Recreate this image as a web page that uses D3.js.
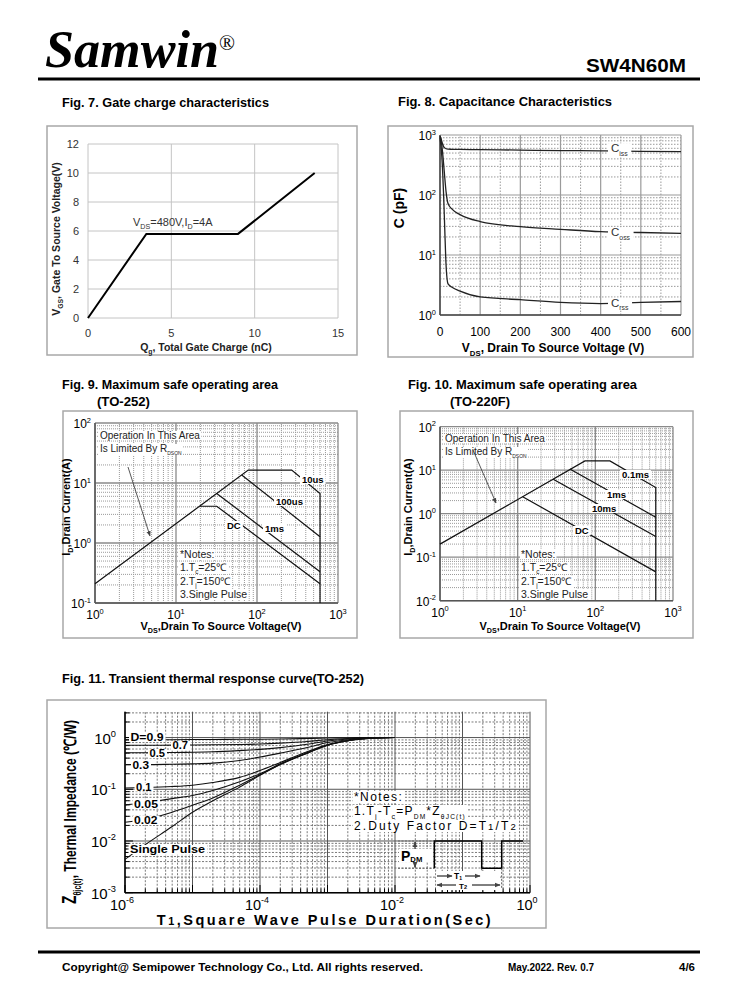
<!DOCTYPE html>
<html>
<head>
<meta charset="utf-8">
<script src="https://cdn.jsdelivr.net/npm/d3@7"></script>
<style>
  body { margin: 0; background: #fff; }
  svg { display: block; }
  text { font-family: "Liberation Sans", Arial, sans-serif; }
</style>
</head>
<body>
<div id="page"></div>
<script>
/**
 * DATA
 * */
// Fig 7 - gate charge
const gateCharge = [0, 3.5, 9, 13.6];
const gateVoltage = [0, 5.8, 5.8, 10];
const gateXTicks = [0, 5, 10, 15];
const gateYTicks = [0, 2, 4, 6, 8, 10, 12];

// Fig 8 - capacitance vs Vds
const capVds = [0, 3, 6, 9, 12, 15, 20, 30, 50, 100, 200, 300, 400, 500, 600];
const capCiss = [950, 850, 720, 640, 610, 590, 580, 578, 575, 570, 560, 550, 545, 535, 528];
const capCoss = [950, 800, 550, 330, 190, 115, 72, 58, 47, 36, 29.6, 26.8, 24.5, 23.7, 23];
const capCrss = [900, 600, 300, 100, 25, 7, 3.3, 2.9, 2.5, 2.0, 1.8, 1.62, 1.55, 1.62, 1.68];
const capXTicks = [0, 100, 200, 300, 400, 500, 600];
const capYExps = [0, 1, 2, 3];

// Fig 9 - SOA TO-252 (Vds in V, Id in A)
const soa252Vds10us = [1, 78, 268, 600, 600];
const soa252Id10us = [0.21, 16.4, 16.4, 6.7, 0.1];
const soa252Vds100us = [64.7, 600];
const soa252Id100us = [13.6, 1.27];
const soa252Vds1ms = [31.8, 600];
const soa252Id1ms = [6.7, 0.333];
const soa252VdsDC = [19.8, 31.8, 600];
const soa252IdDC = [4.1, 4.1, 0.21];

// Fig 10 - SOA TO-220F
const soa220Vds01ms = [1, 73.5, 154, 600, 600];
const soa220Id01ms = [0.2, 16.3, 16.3, 4.0, 0.01];
const soa220Vds1ms = [47, 600];
const soa220Id1ms = [10.7, 0.83];
const soa220Vds10ms = [28.7, 600];
const soa220Id10ms = [6.2, 0.30];
const soa220VdsDC = [11.6, 600];
const soa220IdDC = [2.46, 0.046];
const soaXExps = [0, 1, 2, 3];
const soa252YExps = [-1, 0, 1, 2];
const soa220YExps = [-2, -1, 0, 1, 2];

// Fig 11 - transient thermal impedance
const thermT = [1e-6, 2e-6, 5e-6, 1e-5, 2e-5, 5e-5, 1e-4, 2e-4, 5e-4, 1e-3, 2e-3, 5e-3, 1e-2];
const thermD09 = [0.91, 0.91, 0.91, 0.915, 0.92, 0.925, 0.93, 0.94, 0.96, 0.98, 0.99, 1.0, 1.0];
const thermD07 = [0.71, 0.71, 0.715, 0.72, 0.725, 0.735, 0.75, 0.78, 0.84, 0.91, 0.96, 0.99, 1.0];
const thermD05 = [0.51, 0.51, 0.515, 0.52, 0.53, 0.56, 0.59, 0.64, 0.74, 0.86, 0.94, 0.99, 1.0];
const thermD03 = [0.30, 0.30, 0.305, 0.31, 0.32, 0.36, 0.42, 0.5, 0.64, 0.8, 0.91, 0.98, 1.0];
const thermD01 = [0.106, 0.108, 0.113, 0.12, 0.135, 0.17, 0.23, 0.33, 0.53, 0.73, 0.88, 0.98, 1.0];
const thermD005 = [0.05, 0.055, 0.066, 0.076, 0.095, 0.14, 0.2, 0.31, 0.51, 0.72, 0.87, 0.98, 1.0];
const thermD002 = [0.023, 0.026, 0.036, 0.049, 0.068, 0.12, 0.19, 0.305, 0.5, 0.71, 0.87, 0.98, 1.0];
const thermSingle = [0.0044, 0.0085, 0.019, 0.036, 0.06, 0.11, 0.186, 0.30, 0.5, 0.71, 0.87, 0.98, 1.0];
const thermXExps = [-6, -4, -2, 0];
const thermYExps = [-3, -2, -1, 0];

/**
 * HELPERS
 * */
const svg = d3.select("#page").append("svg").attr("width", 738).attr("height", 1000);

function addText(g, x, y, str, o = {}) {
  const t = g.append("text")
    .attr("x", x).attr("y", y)
    .attr("font-size", o.size || 11)
    .attr("font-weight", o.bold ? "bold" : null)
    .attr("font-style", o.italic ? "italic" : null)
    .attr("text-anchor", o.anchor || "start")
    .attr("fill", o.fill || "#000")
    .text(str);
  if (o.family) t.style("font-family", o.family);
  if (o.len) t.attr("textLength", o.len).attr("lengthAdjust", "spacingAndGlyphs");
  if (o.spacing) t.attr("letter-spacing", o.spacing);
  if (o.rotate) t.attr("transform", `rotate(-90,${x},${y})`);
  return t;
}

// text made of parts: [string, "sub" | "sup" | null, sizeFactor]
function richText(g, x, y, parts, o = {}) {
  const size = o.size || 11;
  const subShift = o.subShift != null ? o.subShift : 0.3;
  const t = g.append("text")
    .attr("x", x).attr("y", y)
    .attr("font-size", size)
    .attr("font-weight", o.bold ? "bold" : null)
    .attr("text-anchor", o.anchor || "start")
    .attr("fill", o.fill || "#000");
  if (o.spacing) t.attr("letter-spacing", o.spacing);
  let shift = 0;
  parts.forEach(([s, kind, f]) => {
    const target = kind === "sub" ? size * subShift : kind === "sup" ? -size * 0.45 : 0;
    const fs = kind ? size * (f || 0.65) : size * (f || 1);
    t.append("tspan").attr("dy", target - shift).attr("font-size", fs).text(s);
    shift = target;
  });
  if (o.rotate) {
    const s = o.squeeze || 1;
    t.attr("transform", `translate(${x},${y}) rotate(-90) scale(${s},1) translate(${-x},${-y})`);
  }
  return t;
}

function whiteBehind(t, pad = 1) {
  const b = t.node().getBBox();
  const parent = t.node().parentNode;
  const r = document.createElementNS("http://www.w3.org/2000/svg", "rect");
  parent.insertBefore(r, t.node());
  d3.select(r).attr("x", b.x - pad).attr("y", b.y + 1).attr("width", b.width + pad * 2)
    .attr("height", b.height - 2).attr("fill", "#fff");
  return t;
}

function logSteps(lo, hi) {
  const major = [], minor = [];
  for (let e = Math.floor(Math.log10(lo)); e <= Math.ceil(Math.log10(hi)); e++) {
    const base = Math.pow(10, e);
    if (base >= lo * 0.999 && base <= hi * 1.001) major.push(base);
    for (let k = 2; k <= 9; k++) {
      const v = k * base;
      if (v > lo * 1.001 && v < hi * 0.999) minor.push(v);
    }
  }
  return { major, minor };
}

function vLines(g, vals, x, y, style) {
  g.append("g").selectAll("line").data(vals).join("line")
    .attr("x1", d => x(d)).attr("x2", d => x(d))
    .attr("y1", y.range()[0]).attr("y2", y.range()[1])
    .attr("stroke", style.color).attr("stroke-width", style.width || 1)
    .attr("stroke-dasharray", style.dash || null);
}
function hLines(g, vals, x, y, style) {
  g.append("g").selectAll("line").data(vals).join("line")
    .attr("y1", d => y(d)).attr("y2", d => y(d))
    .attr("x1", x.range()[0]).attr("x2", x.range()[1])
    .attr("stroke", style.color).attr("stroke-width", style.width || 1)
    .attr("stroke-dasharray", style.dash || null);
}

function frame(x0, y0, x1, y1) {
  svg.append("rect").attr("x", x0).attr("y", y0).attr("width", x1 - x0).attr("height", y1 - y0)
    .attr("fill", "#fff").attr("stroke", "#a8a8a8").attr("stroke-width", 1.5);
}

function powLabel(g, x, y, exp, o = {}) {
  return richText(g, x, y, [["10", null], [String(exp), "sup", 0.62]], o);
}

svg.append("defs").append("marker")
  .attr("id", "arrow").attr("viewBox", "0 0 10 10").attr("refX", 9).attr("refY", 5)
  .attr("markerWidth", 6).attr("markerHeight", 6).attr("orient", "auto")
  .append("path").attr("d", "M0,1 L10,5 L0,9 z").attr("fill", "#444");

/**
 * HEADER / FOOTER
 * */
addText(svg, 45, 67, "Samwin", { size: 52, bold: true, italic: true,
  family: '"Liberation Serif", "Times New Roman", serif', len: 174 });
addText(svg, 219, 50, "®", { size: 21, family: '"Liberation Serif", serif' });
addText(svg, 686, 72, "SW4N60M", { size: 19, bold: true, anchor: "end", len: 100 });
svg.append("rect").attr("x", 38).attr("y", 77.5).attr("width", 662).attr("height", 3).attr("fill", "#000");

svg.append("rect").attr("x", 38).attr("y", 950.5).attr("width", 662).attr("height", 3).attr("fill", "#000");
addText(svg, 62, 971, "Copyright@ Semipower Technology Co., Ltd. All rights reserved.", { size: 11.5, bold: true, len: 361 });
addText(svg, 508, 971, "May.2022. Rev. 0.7", { size: 10.5, bold: true, len: 86 });
addText(svg, 679, 971, "4/6", { size: 10.5, bold: true, len: 16 });

/**
 * FIG 7 - GATE CHARGE
 * */
{
  addText(svg, 62, 107, "Fig. 7. Gate charge characteristics", { size: 12.5, bold: true, len: 207 });
  frame(47, 126, 357, 355);
  const g = svg.append("g");
  const x = d3.scaleLinear().domain([0, 15]).range([88, 338]);
  const y = d3.scaleLinear().domain([0, 12]).range([318, 144]);
  const grid = { color: "#c4c4c4", width: 1 };
  vLines(g, gateXTicks, x, y, grid);
  hLines(g, gateYTicks, x, y, grid);

  g.append("g").selectAll("text").data(gateXTicks).join("text")
    .attr("x", d => x(d)).attr("y", 337).attr("text-anchor", "middle")
    .attr("font-size", 11).attr("fill", "#333").text(d => d);
  g.append("g").selectAll("text").data(gateYTicks).join("text")
    .attr("x", 79).attr("y", d => y(d) + 4).attr("text-anchor", "end")
    .attr("font-size", 11).attr("fill", "#333").text(d => d);

  g.append("path")
    .datum(d3.zip(gateCharge, gateVoltage))
    .attr("d", d3.line().x(d => x(d[0])).y(d => y(d[1])))
    .attr("fill", "none").attr("stroke", "#000").attr("stroke-width", 2);

  richText(g, 133, 226, [["V", null], ["DS", "sub"], ["=480V,I", null], ["D", "sub"], ["=4A", null]],
    { size: 11, fill: "#333" });
  richText(g, 206, 351, [["Q", null], ["g", "sub"], [", Total Gate Charge (nC)", null]],
    { size: 10.5, bold: true, anchor: "middle", fill: "#222" });
  richText(g, 60, 239, [["V", null], ["GS", "sub"], [",  Gate To  Source Voltage(V)", null]],
    { size: 10.5, bold: true, anchor: "middle", rotate: true, fill: "#222" });
}

/**
 * FIG 8 - CAPACITANCE
 * */
{
  addText(svg, 398, 106, "Fig. 8. Capacitance Characteristics", { size: 12.5, bold: true, len: 214 });
  frame(388, 126, 693, 357);
  const g = svg.append("g");
  const x = d3.scaleLinear().domain([0, 600]).range([440, 681]);
  const y = d3.scaleLog().domain([1, 1000]).range([315, 135]);
  const ys = logSteps(1, 1000);
  hLines(g, ys.minor, x, y, { color: "#9a9a9a", dash: "1.5,1.5" });
  vLines(g, d3.range(50, 600, 100), x, y, { color: "#9a9a9a", dash: "1.5,1.5" });
  hLines(g, ys.major, x, y, { color: "#9a9a9a", width: 1.2 });
  vLines(g, capXTicks, x, y, { color: "#9a9a9a", width: 1.2 });
  g.append("line").attr("x1", 440).attr("x2", 440).attr("y1", 135).attr("y2", 315).attr("stroke", "#444").attr("stroke-width", 1.5);
  g.append("line").attr("x1", 440).attr("x2", 681).attr("y1", 315).attr("y2", 315).attr("stroke", "#444").attr("stroke-width", 1.5);

  g.append("g").selectAll("text").data(capXTicks).join("text")
    .attr("x", d => x(d)).attr("y", 336).attr("text-anchor", "middle")
    .attr("font-size", 12).text(d => d);
  capYExps.forEach(e => powLabel(g, 436, y(Math.pow(10, e)) + 5, e, { size: 12, anchor: "end" }));

  const line = d3.line().x(d => x(d[0])).y(d => y(d[1])).curve(d3.curveMonotoneX);
  [capCiss, capCoss, capCrss].forEach(vals => {
    g.append("path").datum(d3.zip(capVds, vals)).attr("d", line)
      .attr("fill", "none").attr("stroke", "#222").attr("stroke-width", 1.3);
  });
  [["iss", 600], ["oss", 24], ["rss", 1.6]].forEach(([s, v]) => {
    whiteBehind(richText(g, 611, y(v) + 4, [["C", null], [s, "sub", 0.6]], { size: 11.5, fill: "#333" }), 3);
  });

  addText(g, 404, 208, "C (pF)", { size: 14, bold: true, anchor: "middle", rotate: true });
  richText(g, 553, 352, [["V", null], ["DS", "sub"], [", Drain To Source Voltage (V)", null]],
    { size: 12, bold: true, anchor: "middle" });
}

/**
 * SOA FIGURES (9 and 10)
 * */
function soaChart(o) {
  const g = svg.append("g");
  const x = d3.scaleLog().domain([1, 1000]).range(o.xr);
  const y = d3.scaleLog().domain(o.yd).range(o.yr);
  const xs = logSteps(1, 1000), ys = logSteps(o.yd[0], o.yd[1]);
  const minor = { color: "#9a9a9a", dash: "1,1" };
  const major = { color: "#8a8a8a", width: 1.3 };
  vLines(g, xs.minor, x, y, minor);
  hLines(g, ys.minor, x, y, minor);
  vLines(g, xs.major, x, y, major);
  hLines(g, ys.major, x, y, major);
  g.append("line").attr("x1", o.xr[0]).attr("x2", o.xr[0]).attr("y1", o.yr[0]).attr("y2", o.yr[1]).attr("stroke", "#555").attr("stroke-width", 1.5);
  g.append("line").attr("x1", o.xr[0]).attr("x2", o.xr[1]).attr("y1", o.yr[0]).attr("y2", o.yr[0]).attr("stroke", "#555").attr("stroke-width", 1.5);

  soaXExps.forEach(e => powLabel(g, x(Math.pow(10, e)), o.yr[0] + 16, e, { size: 12, anchor: "middle" }));
  o.yExps.forEach(e => powLabel(g, o.xr[0] - 4, y(Math.pow(10, e)) + 5, e, { size: 12, anchor: "end" }));

  const line = d3.line().x(d => x(d[0])).y(d => y(d[1]));
  o.lines.forEach(([vs, is]) => {
    g.append("path").datum(d3.zip(vs, is)).attr("d", line)
      .attr("fill", "none").attr("stroke", "#111").attr("stroke-width", 1.2);
  });
  o.labels.forEach(([s, lx, ly]) => {
    whiteBehind(addText(g, lx, ly, s, { size: 9.5, bold: true }), 2);
  });

  const ox = o.xr[0] + 5;
  whiteBehind(addText(g, ox, o.opY, "Operation In This Area", { size: 10, fill: "#222" }), 1);
  whiteBehind(richText(g, ox, o.opY + 13, [["Is Limited By R", null], ["DSON", "sub", 0.5]], { size: 10, fill: "#222" }), 1);
  g.append("line").attr("x1", o.arrow[0]).attr("y1", o.arrow[1]).attr("x2", o.arrow[2]).attr("y2", o.arrow[3])
    .attr("stroke", "#444").attr("stroke-width", 0.9).attr("marker-end", "url(#arrow)");

  const nx = o.notesX;
  whiteBehind(addText(g, nx, 558, "*Notes:", { size: 10.5, fill: "#222" }), 1);
  whiteBehind(richText(g, nx, 571, [["1.T", null], ["c", "sub", 0.6], ["=25℃", null]], { size: 10.5, fill: "#222" }), 1);
  whiteBehind(richText(g, nx, 585, [["2.T", null], ["j", "sub", 0.6], ["=150℃", null]], { size: 10.5, fill: "#222" }), 1);
  whiteBehind(addText(g, nx, 598, "3.Single Pulse", { size: 10.5, fill: "#222" }), 1);

  richText(g, o.xTitleX, 630, [["V", null], ["DS", "sub"], [",Drain To Source Voltage(V)", null]],
    { size: 11, bold: true, anchor: "middle" });
  richText(g, o.yTitleX, 507, [["I", null], ["D", "sub"], [",Drain Current(A)", null]],
    { size: 11, bold: true, anchor: "middle", rotate: true });
}

addText(svg, 62, 389, "Fig. 9. Maximum safe operating area", { size: 12.5, bold: true, len: 216 });
addText(svg, 97, 406, "(TO-252)", { size: 12.5, bold: true, len: 53 });
frame(63, 411, 357, 638);
soaChart({
  xr: [95, 338], yd: [0.1, 100], yr: [603, 423], yExps: soa252YExps,
  lines: [[soa252Vds10us, soa252Id10us], [soa252Vds100us, soa252Id100us],
          [soa252Vds1ms, soa252Id1ms], [soa252VdsDC, soa252IdDC]],
  labels: [["10us", 302, 483], ["100us", 276, 505], ["1ms", 265, 532], ["DC", 227, 529]],
  opY: 439, arrow: [128, 467, 150, 536], notesX: 180, xTitleX: 221, yTitleX: 70
});

addText(svg, 408, 389, "Fig. 10. Maximum safe operating area", { size: 12.5, bold: true, len: 229 });
addText(svg, 450, 406, "(TO-220F)", { size: 12.5, bold: true, len: 60 });
frame(400, 411, 693, 638);
soaChart({
  xr: [440, 673], yd: [0.01, 100], yr: [600.7, 426.7], yExps: soa220YExps,
  lines: [[soa220Vds01ms, soa220Id01ms], [soa220Vds1ms, soa220Id1ms],
          [soa220Vds10ms, soa220Id10ms], [soa220VdsDC, soa220IdDC]],
  labels: [["0.1ms", 622, 478], ["1ms", 607, 498], ["10ms", 592, 512], ["DC", 575, 534]],
  opY: 442, arrow: [473, 450, 496, 503], notesX: 521, xTitleX: 560, yTitleX: 412
});

/**
 * FIG 11 - TRANSIENT THERMAL RESPONSE
 * */
{
  addText(svg, 62, 683, "Fig. 11. Transient thermal response curve(TO-252)", { size: 12.5, bold: true, len: 302 });
  frame(47, 700, 546, 928);
  const g = svg.append("g");
  const x = d3.scaleLog().domain([1e-6, 1]).range([125, 530]);
  const y = d3.scaleLog().domain([1e-3, Math.pow(10, 0.5)]).range([892.7, 711.7]);
  const xs = logSteps(1e-6, 1), ys = logSteps(1e-3, Math.pow(10, 0.5));
  const minor = { color: "#7a7a7a", dash: "2,1.5" };
  const major = { color: "#555", width: 1 };
  vLines(g, xs.minor, x, y, minor);
  hLines(g, ys.minor, x, y, minor);
  vLines(g, xs.major, x, y, major);
  hLines(g, ys.major, x, y, major);
  g.append("line").attr("x1", 125).attr("x2", 125).attr("y1", 892.7).attr("y2", 711.7).attr("stroke", "#000").attr("stroke-width", 1.5);
  g.append("line").attr("x1", 125).attr("x2", 530).attr("y1", 892.7).attr("y2", 892.7).attr("stroke", "#000").attr("stroke-width", 1.5);
  // small ticks along the bottom and left axes
  g.append("g").selectAll("line").data(xs.minor.concat(xs.major)).join("line")
    .attr("x1", d => x(d)).attr("x2", d => x(d)).attr("y1", 892.7).attr("y2", d => xs.major.includes(d) ? 885 : 888.5)
    .attr("stroke", "#000").attr("stroke-width", 1);
  g.append("g").selectAll("line").data(ys.minor.concat(ys.major)).join("line")
    .attr("y1", d => y(d)).attr("y2", d => y(d)).attr("x1", 125).attr("x2", d => ys.major.includes(d) ? 133 : 129.5)
    .attr("stroke", "#000").attr("stroke-width", 1);

  thermXExps.forEach(e => powLabel(g, x(Math.pow(10, e)) - 3, 910, e, { size: 14.5, anchor: "middle" }));
  thermYExps.forEach(e => powLabel(g, 116, y(Math.pow(10, e)) + 6, e, { size: 15, anchor: "end" }));

  const line = d3.line().x(d => x(d[0])).y(d => y(d[1])).curve(d3.curveMonotoneX);
  [thermD09, thermD07, thermD05, thermD03, thermD01, thermD005, thermD002, thermSingle].forEach(vals => {
    g.append("path").datum(d3.zip(thermT, vals)).attr("d", line)
      .attr("fill", "none").attr("stroke", "#111").attr("stroke-width", 1.1);
  });
  [["D=0.9", 130.5, 741, 33], ["0.7", 172.5, 749, 15.5], ["0.5", 149.5, 757, 15.5], ["0.3", 132.5, 769, 16.5],
   ["0.1", 136, 790.5, 15.5], ["0.05", 134, 807.5, 24], ["0.02", 134, 824, 23.5], ["Single Pulse", 130, 853, 75]]
    .forEach(([s, lx, ly, w]) => {
      whiteBehind(addText(g, lx, ly, s, { size: 10, bold: true, len: w }), 1.5);
    });

  // notes
  whiteBehind(addText(g, 354, 801, "*Notes:", { size: 12, spacing: 1.4 }), 1);
  whiteBehind(richText(g, 354, 815, [["1.T", null], ["j", "sub", 0.6], ["-T", null], ["c", "sub", 0.6], ["=P", null],
    ["DM", "sub", 0.55], ["*Z", null], ["θJC(t)", "sub", 0.55]], { size: 12, spacing: 1.2 }), 1);
  whiteBehind(richText(g, 354, 830, [["2.Duty Factor D=T", null], ["1", null, 0.8], ["/T", null], ["2", null, 0.8]],
    { size: 12, spacing: 2.1 }), 1);

  // pulse sketch
  const p = g.append("g");
  const hi = 841, lo = 868.3;
  p.append("path").attr("d", `M434.3,${lo} V${hi} H481.7 V${lo} H501.7 V${hi} H523`)
    .attr("fill", "none").attr("stroke", "#000").attr("stroke-width", 1.5);
  p.append("path").attr("d", `M398,${hi} H434 M398,${lo} H434`)
    .attr("stroke", "#666").attr("stroke-dasharray", "2,1.5").attr("stroke-width", 1);
  p.append("rect").attr("x", 399).attr("y", 849).attr("width", 34).attr("height", 13).attr("fill", "#fff");
  richText(p, 401, 861, [["P", null], ["DM", "sub", 0.55]], { size: 14, bold: true, subShift: 0.08 });
  p.append("line").attr("x1", 415).attr("x2", 415).attr("y1", 849).attr("y2", hi + 1).attr("stroke", "#000").attr("marker-end", "url(#arrow)");
  p.append("line").attr("x1", 415).attr("x2", 415).attr("y1", 862).attr("y2", lo - 1).attr("stroke", "#000").attr("marker-end", "url(#arrow)");
  p.append("path").attr("d", `M481.7,${lo} V880 M501.7,${lo} V889`).attr("stroke", "#555").attr("stroke-dasharray", "2,1.5");
  p.append("rect").attr("x", 436).attr("y", 871).attr("width", 64).attr("height", 19).attr("fill", "#fff");
  p.append("line").attr("x1", 437).attr("x2", 452).attr("y1", 876).attr("y2", 876).attr("stroke", "#000").attr("marker-end", "url(#arrow)");
  p.append("line").attr("x1", 465).attr("x2", 480).attr("y1", 876).attr("y2", 876).attr("stroke", "#000").attr("marker-end", "url(#arrow)");
  p.append("line").attr("x1", 456).attr("x2", 437).attr("y1", 885).attr("y2", 885).attr("stroke", "#000").attr("marker-end", "url(#arrow)");
  p.append("line").attr("x1", 472).attr("x2", 500).attr("y1", 885).attr("y2", 885).attr("stroke", "#000").attr("marker-end", "url(#arrow)");
  richText(p, 454, 879, [["T", null], ["1", "sub", 0.6]], { size: 8.5, bold: true, subShift: 0.15 });
  richText(p, 459, 889, [["T", null], ["2", null, 0.7]], { size: 8, bold: true });

  richText(g, 325, 925, [["T", null], ["1", null, 0.75], [",Square Wave Pulse Duration(Sec)", null]],
    { size: 14.5, bold: true, anchor: "middle", spacing: 2.5 });
  richText(g, 76, 812, [["Z", null, 1.15], ["θjc(t)", "sub", 0.6], [", Thermal Impedance (℃/W)", null]],
    { size: 17, bold: true, anchor: "middle", rotate: true, squeeze: 0.71 });
}
</script>
</body>
</html>
